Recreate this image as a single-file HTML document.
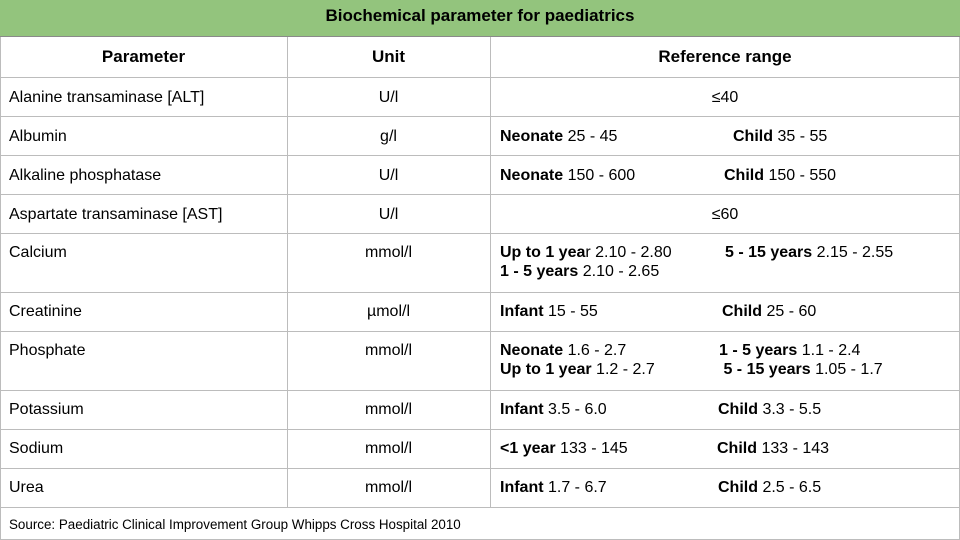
<!DOCTYPE html>
<html><head><meta charset="utf-8"><style>
body{margin:0;width:960px;height:540px;background:#fff;font-family:"Liberation Sans",Arial,sans-serif;font-size:16px;color:#000;position:relative;overflow:hidden}
.a{position:absolute;box-sizing:border-box}
.hl{position:absolute;left:0;width:960px;height:1px;background:#bcbcbc}
.vl{position:absolute;width:1px;background:#bcbcbc}
.t{position:absolute;line-height:19px;white-space:nowrap}
b{font-weight:bold}
</style></head><body>
<div class="a" style="left:0;top:0;width:960px;height:37px;background:#93c47d;border-bottom:1px solid #8a8a8a;text-align:center;line-height:32px;font-weight:bold;font-size:17px">Biochemical parameter for paediatrics</div>
<div class="vl" style="left:0;top:37px;height:503px"></div>
<div class="vl" style="left:959px;top:37px;height:503px"></div>
<div class="vl" style="left:287px;top:37px;height:470px"></div>
<div class="vl" style="left:490px;top:37px;height:470px"></div>
<div class="hl" style="top:77px"></div><div class="hl" style="top:116px"></div><div class="hl" style="top:155px"></div><div class="hl" style="top:194px"></div><div class="hl" style="top:233px"></div><div class="hl" style="top:292px"></div><div class="hl" style="top:331px"></div><div class="hl" style="top:390px"></div><div class="hl" style="top:429px"></div><div class="hl" style="top:468px"></div><div class="hl" style="top:507px"></div><div class="hl" style="top:539px"></div>

<div class="t" style="left:0;width:287px;text-align:center;top:47px;font-weight:bold;font-size:17px">Parameter</div>
<div class="t" style="left:287px;width:203px;text-align:center;top:47px;font-weight:bold;font-size:17px">Unit</div>
<div class="t" style="left:490px;width:470px;text-align:center;top:47px;font-weight:bold;font-size:17px">Reference range</div>

<div>
<div class="t" style="left:9px;top:88px">Alanine transaminase [ALT]</div>
<div class="t" style="left:287px;width:203px;text-align:center;top:88px">U/l</div>
<div class="t" style="left:490px;width:470px;text-align:center;top:88px">≤40</div></div>

<div>
<div class="t" style="left:9px;top:127px">Albumin</div>
<div class="t" style="left:287px;width:203px;text-align:center;top:127px">g/l</div>
<div class="t" style="left:500px;top:127px"><b>Neonate</b> 25 - 45</div>
<div class="t" style="left:733px;top:127px"><b>Child</b> 35 - 55</div></div>

<div>
<div class="t" style="left:9px;top:166px">Alkaline phosphatase</div>
<div class="t" style="left:287px;width:203px;text-align:center;top:166px">U/l</div>
<div class="t" style="left:500px;top:166px"><b>Neonate</b> 150 - 600</div>
<div class="t" style="left:724px;top:166px"><b>Child</b> 150 - 550</div></div>

<div>
<div class="t" style="left:9px;top:205px">Aspartate transaminase [AST]</div>
<div class="t" style="left:287px;width:203px;text-align:center;top:205px">U/l</div>
<div class="t" style="left:490px;width:470px;text-align:center;top:205px">≤60</div></div>

<div>
<div class="t" style="left:9px;top:243px">Calcium</div>
<div class="t" style="left:287px;width:203px;text-align:center;top:243px">mmol/l</div>
<div class="t" style="left:500px;top:243px"><b>Up to 1 yea</b>r 2.10 - 2.80<br><b>1 - 5 years</b> 2.10 - 2.65</div>
<div class="t" style="left:725px;top:243px"><b>5 - 15 years</b> 2.15 - 2.55</div></div>

<div>
<div class="t" style="left:9px;top:302px">Creatinine</div>
<div class="t" style="left:287px;width:203px;text-align:center;top:302px">µmol/l</div>
<div class="t" style="left:500px;top:302px"><b>Infant</b> 15 - 55</div>
<div class="t" style="left:722px;top:302px"><b>Child</b> 25 - 60</div></div>

<div>
<div class="t" style="left:9px;top:341px">Phosphate</div>
<div class="t" style="left:287px;width:203px;text-align:center;top:341px">mmol/l</div>
<div class="t" style="left:500px;top:341px"><b>Neonate</b> 1.6 - 2.7<br><b>Up to 1 year</b> 1.2 - 2.7</div>
<div class="t" style="left:719px;top:341px"><b>1 - 5 years</b> 1.1 - 2.4<br><b>&nbsp;5 - 15 years</b> 1.05 - 1.7</div></div>

<div>
<div class="t" style="left:9px;top:400px">Potassium</div>
<div class="t" style="left:287px;width:203px;text-align:center;top:400px">mmol/l</div>
<div class="t" style="left:500px;top:400px"><b>Infant</b> 3.5 - 6.0</div>
<div class="t" style="left:718px;top:400px"><b>Child</b> 3.3 - 5.5</div></div>

<div>
<div class="t" style="left:9px;top:439px">Sodium</div>
<div class="t" style="left:287px;width:203px;text-align:center;top:439px">mmol/l</div>
<div class="t" style="left:500px;top:439px"><b>&lt;1 year</b> 133 - 145</div>
<div class="t" style="left:717px;top:439px"><b>Child</b> 133 - 143</div></div>

<div>
<div class="t" style="left:9px;top:478px">Urea</div>
<div class="t" style="left:287px;width:203px;text-align:center;top:478px">mmol/l</div>
<div class="t" style="left:500px;top:478px"><b>Infant</b> 1.7 - 6.7</div>
<div class="t" style="left:718px;top:478px"><b>Child</b> 2.5 - 6.5</div></div>

<div class="t" style="left:9px;top:515px;font-size:13.4px">Source: Paediatric Clinical Improvement Group Whipps Cross Hospital 2010</div>
</body></html>
